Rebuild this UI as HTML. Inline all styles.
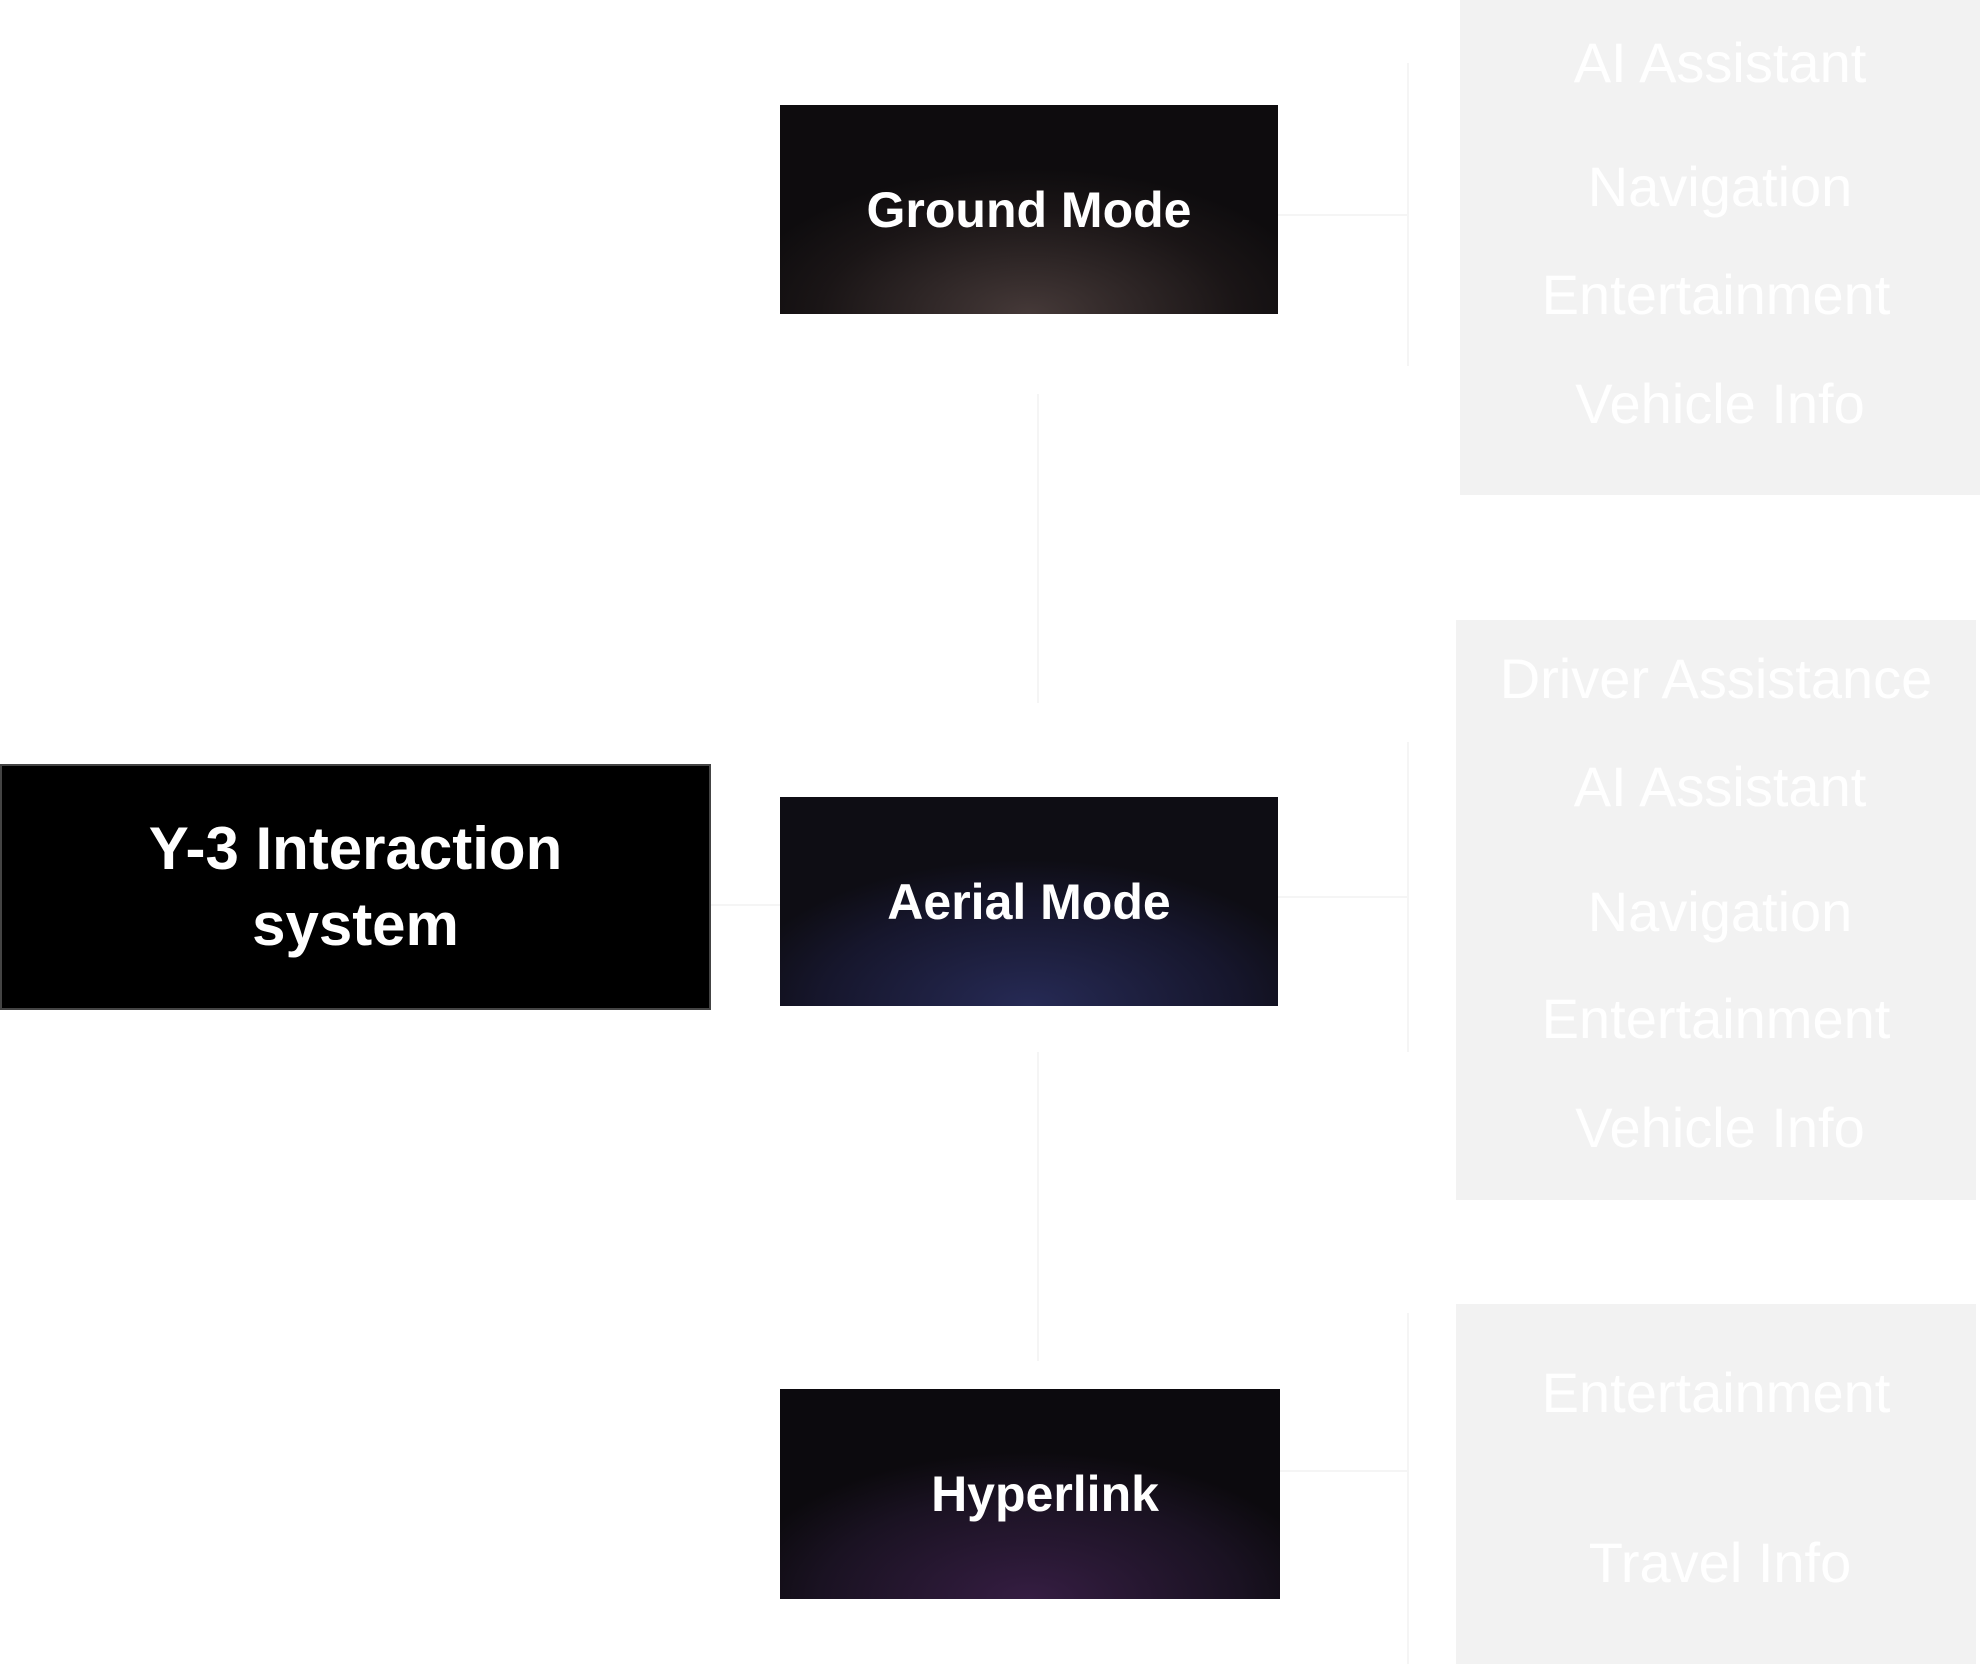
<!DOCTYPE html>
<html><head><meta charset="utf-8"><style>
body{margin:0;width:1980px;height:1664px;background:#fff;position:relative;overflow:hidden;font-family:"Liberation Sans",sans-serif}
.a{position:absolute}
.box{position:absolute;display:flex;align-items:center;justify-content:center;color:#fff;font-weight:bold;font-size:50px}
.p{position:absolute;background:#f2f2f2}
.t{position:absolute;width:520px;text-align:center;color:#fff;font-size:56px;line-height:1;transform:translateY(-50%)}
.l{position:absolute;background:#f5f5f5}
</style></head><body>
<div class="l" style="left:1407px;top:63px;width:2px;height:303px"></div>
<div class="l" style="left:1278px;top:214px;width:130px;height:2px"></div>
<div class="l" style="left:1037px;top:394px;width:2px;height:309px"></div>
<div class="l" style="left:1037px;top:1052px;width:2px;height:309px"></div>
<div class="l" style="left:1407px;top:742px;width:2px;height:310px"></div>
<div class="l" style="left:1278px;top:896px;width:130px;height:2px"></div>
<div class="l" style="left:1407px;top:1313px;width:2px;height:351px"></div>
<div class="l" style="left:1280px;top:1470px;width:128px;height:2px"></div>
<div class="l" style="left:711px;top:904px;width:69px;height:2px"></div>

<div class="box" style="left:0;top:764px;width:707px;height:242px;border:2px solid #444;background:#000;font-size:60px;line-height:76px;text-align:center">Y-3 Interaction<br>system</div>
<div class="box" style="left:780px;top:105px;width:498px;height:209px;background:radial-gradient(ellipse 60% 70% at 50% 100%,#453938,#1a1516 70%,#0e0c0e)">Ground Mode</div>
<div class="box" style="left:780px;top:797px;width:498px;height:209px;background:radial-gradient(ellipse 60% 70% at 50% 100%,#262a55,#16162c 70%,#0e0d14)">Aerial Mode</div>
<div class="box" style="left:780px;top:1389px;width:500px;height:210px;background:radial-gradient(ellipse 60% 70% at 50% 100%,#351d42,#1a1222 70%,#0c0a0e);padding-left:30px;box-sizing:border-box">Hyperlink</div>

<div class="p" style="left:1460px;top:0;width:520px;height:495px"></div>
<div class="t" style="left:1460px;top:63px">AI Assistant</div>
<div class="t" style="left:1460px;top:187px">Navigation</div>
<div class="t" style="left:1456px;top:295px">Entertainment</div>
<div class="t" style="left:1460px;top:404px">Vehicle Info</div>

<div class="p" style="left:1456px;top:620px;width:520px;height:580px"></div>
<div class="t" style="left:1456px;top:679px">Driver Assistance</div>
<div class="t" style="left:1460px;top:787px">AI Assistant</div>
<div class="t" style="left:1460px;top:912px">Navigation</div>
<div class="t" style="left:1456px;top:1019px">Entertainment</div>
<div class="t" style="left:1460px;top:1128px">Vehicle Info</div>

<div class="p" style="left:1456px;top:1304px;width:520px;height:360px"></div>
<div class="t" style="left:1456px;top:1393px">Entertainment</div>
<div class="t" style="left:1460px;top:1563px">Travel Info</div>
</body></html>
